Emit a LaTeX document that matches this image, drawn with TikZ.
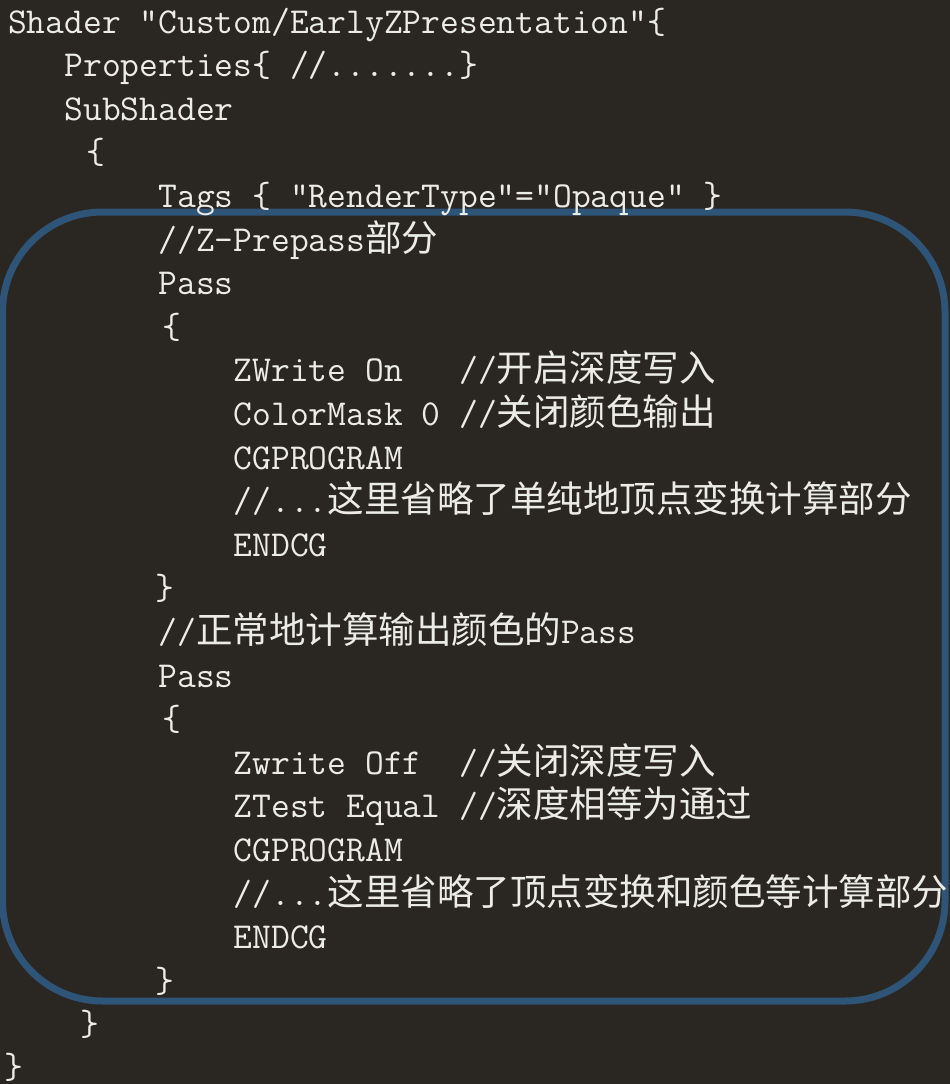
\documentclass[tikz,border=0pt]{standalone}
\usepackage{fontspec}
\newfontfamily\cjk[Scale=1.0]{Noto Sans CJK SC}
\pgfdeclarelayer{bglayer}
\pgfdeclarelayer{edgelayer}
\pgfdeclarelayer{nodelayer}
\pgfsetlayers{bglayer,edgelayer,nodelayer,main}
\definecolor{codebg}{RGB}{42,39,34}
\definecolor{codefg}{RGB}{236,236,230}
\definecolor{boxblue}{RGB}{46,84,120}
\tikzset{font=\ttfamily\fontsize{36.5}{40}\selectfont}
\tikzstyle{code}=[anchor=base west,inner sep=0pt,text=codefg]
\tikzstyle{frame}=[draw=boxblue,line width=7pt,rounded corners=100pt]

\begin{document}
\begin{tikzpicture}[x=1pt,y=-1pt]
	\begin{pgfonlayer}{bglayer}
		\fill[codebg] (0,0) rectangle (950,1084);
	\end{pgfonlayer}
	\useasboundingbox (0,0) rectangle (950,1084);
	\begin{pgfonlayer}{nodelayer}
		\node [style=code] (0) at (8, 33) {Shader "Custom/EarlyZPresentation"\{};
		\node [style=code] (1) at (64.4, 76.6) {Properties\{ //.......\}};
		\node [style=code] (2) at (64.4, 120.2) {SubShader};
		\node [style=code] (3) at (86.6, 163.8) {\{};
		\node [style=code] (4) at (158.4, 207.4) {Tags \{ "RenderType"="Opaque" \}};
		\node [style=code] (5) at (158.4, 251) {//Z-Prepass{\cjk 部分}};
		\node [style=code] (6) at (158.4, 294.6) {Pass};
		\node [style=code] (7) at (162.6, 338.2) {\{};
		\node [style=code] (8) at (233.6, 381.8) {ZWrite On\ \ \ //{\cjk 开启深度写入}};
		\node [style=code] (9) at (233.6, 425.4) {ColorMask 0 //{\cjk 关闭颜色输出}};
		\node [style=code] (10) at (233.6, 469) {CGPROGRAM};
		\node [style=code] (11) at (233.6, 512.6) {//...{\cjk 这里省略了单纯地顶点变换计算部分}};
		\node [style=code] (12) at (233.6, 556.2) {ENDCG};
		\node [style=code] (13) at (155, 599.8) {\}};
		\node [style=code] (14) at (158.4, 643.4) {//{\cjk 正常地计算输出颜色的}Pass};
		\node [style=code] (15) at (158.4, 687) {Pass};
		\node [style=code] (16) at (162.6, 730.6) {\{};
		\node [style=code] (17) at (233.6, 774.2) {Zwrite Off\ \ //{\cjk 关闭深度写入}};
		\node [style=code] (18) at (233.6, 817.8) {ZTest Equal //{\cjk 深度相等为通过}};
		\node [style=code] (19) at (233.6, 861.4) {CGPROGRAM};
		\node [style=code] (20) at (233.6, 905) {//...{\cjk 这里省略了顶点变换和颜色等计算部分}};
		\node [style=code] (21) at (233.6, 948.6) {ENDCG};
		\node [style=code] (22) at (155, 992.2) {\}};
		\node [style=code] (23) at (80.6, 1035.8) {\}};
		\node [style=code] (24) at (4.6, 1078) {\}};
	\end{pgfonlayer}
	\begin{pgfonlayer}{edgelayer}
		\draw [style=frame] (2.5, 212) rectangle (945, 1001);
	\end{pgfonlayer}
\end{tikzpicture}
\end{document}
